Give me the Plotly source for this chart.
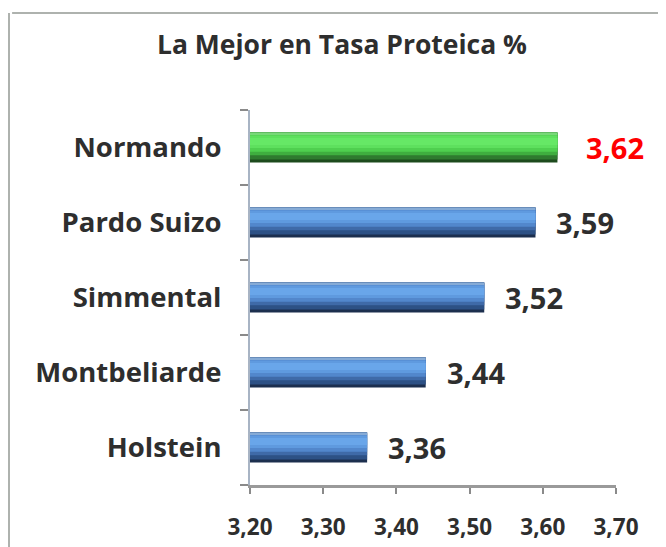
import plotly.graph_objects as go

categories = ["Normando", "Pardo Suizo", "Simmental", "Montbeliarde", "Holstein"]
values = [3.62, 3.59, 3.52, 3.44, 3.36]
x_ticks = [3.20, 3.30, 3.40, 3.50, 3.60, 3.70]
title_text = "La Mejor en Tasa Proteica %"

FONT = "Open Sans"
TEXT = "#2e2e2e"

# gradient layers: (top fraction, bottom fraction, green colour, blue colour)
layers = [
    (0.00, 1.00, "#1d4a1d", "#1c2f4e"),
    (0.00, 0.90, "#2f7a2f", "#2d5185"),
    (0.00, 0.76, "#3fae3f", "#3f6aa8"),
    (0.04, 0.64, "#4fcf4f", "#5287cc"),
    (0.10, 0.52, "#5ee05e", "#5f9adf"),
    (0.18, 0.42, "#66e866", "#69a6ea"),
    (0.00, 0.06, "#78d878", "#86abd6"),
]
BW = 0.4

fig = go.Figure()
for f0, f1, cg, cb in layers:
    colors = [cg if i == 0 else cb for i in range(len(categories))]
    fig.add_trace(go.Bar(
        x=values, y=categories, orientation="h",
        base=0, width=(f1 - f0) * BW, offset=BW / 2 - f1 * BW,
        marker=dict(color=colors, line=dict(width=0)),
        hoverinfo="skip", showlegend=False,
    ))

for i, (c, v) in enumerate(zip(categories, values)):
    fig.add_annotation(
        x=v, y=c, xref="x", yref="y",
        text=f"{v:.2f}".replace(".", ","),
        showarrow=False, xanchor="left", yanchor="middle",
        xshift=27 if i == 0 else 19,
        font=dict(family=FONT, size=29, color="#ff0000" if i == 0 else TEXT, weight="bold"),
    )

# chart frame (top and left edges visible)
fig.add_shape(type="line", xref="paper", yref="paper", x0=-0.65, x1=1.3,
              y0=1 + 97 / 375, y1=1 + 97 / 375, line=dict(color="#aeb2ae", width=2))
fig.add_shape(type="line", xref="paper", yref="paper", x0=-241 / 366, x1=-241 / 366,
              y0=-0.3, y1=1 + 97 / 375, line=dict(color="#aeb2ae", width=2))

fig.update_layout(
    width=658, height=539,
    margin=dict(l=242, r=50, t=102, b=62),
    paper_bgcolor="white", plot_bgcolor="white",
    separators=",.",
    barmode="overlay",
    title=dict(text=title_text, x=334 / 658, xanchor="center", y=1 - 37 / 539, yanchor="middle",
               font=dict(family=FONT, size=26.5, color=TEXT, weight="bold")),
    xaxis=dict(range=[3.20, 3.70], tickvals=x_ticks, tickformat=".2f",
               showgrid=False, zeroline=False, automargin=False,
               showline=True, linecolor="#9a9a9a", linewidth=3,
               ticks="outside", ticklen=6, tickcolor="#8a8a8a", tickwidth=2,
               ticklabelstandoff=14,
               tickfont=dict(family=FONT, size=22.5, color=TEXT, weight="bold")),
    yaxis=dict(type="category", categoryorder="array", categoryarray=categories[::-1],
               showgrid=False, zeroline=False, automargin=False,
               showline=True, linecolor="#a8b4c4", linewidth=2,
               ticks="outside", ticklen=8, tickcolor="#8a8a8a", tickwidth=2,
               tickson="boundaries", ticklabelstandoff=21,
               tickfont=dict(family=FONT, size=27.5, color=TEXT, weight="bold")),
)

fig.write_html("out.html")
